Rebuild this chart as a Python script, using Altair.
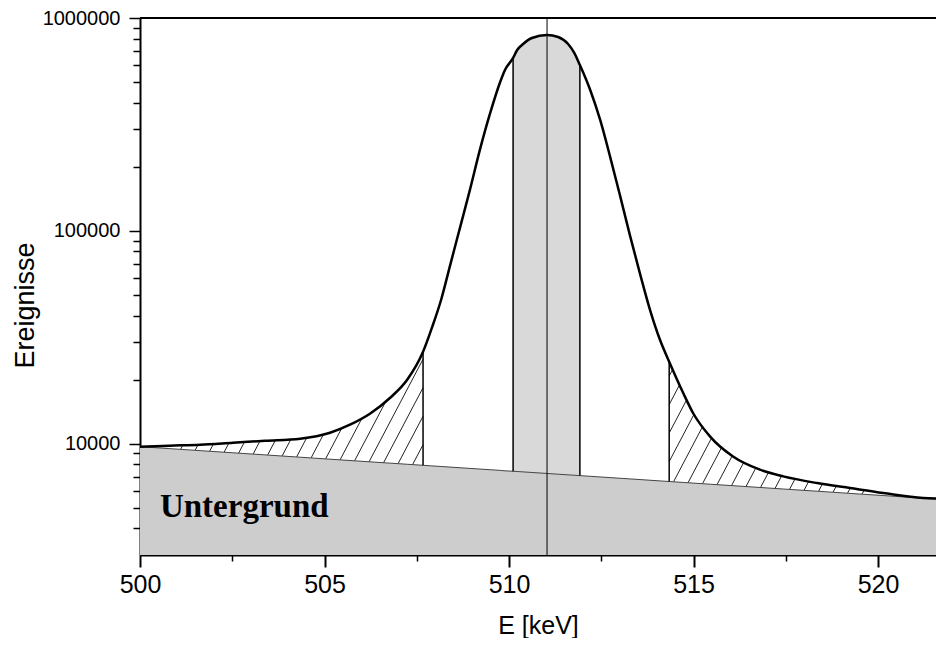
import altair as alt
import numpy as np
import pandas as pd

# ---- data ----
energie = [500.00, 500.81, 501.63, 502.52, 503.39, 504.34, 505.15, 505.69, 506.23, 506.78,
           507.24, 507.67, 507.91, 508.16, 508.40, 508.67, 508.94, 509.21, 509.49, 509.76,
           509.89, 510.11, 510.22, 510.35, 510.62, 511.03, 511.33, 511.60, 511.76, 511.92,
           512.20, 512.47, 512.74,
           513.01, 513.28, 513.55, 513.82, 514.09, 514.34, 514.72, 514.99, 515.45, 516.07,
           516.80, 517.43, 518.35, 519.24, 520.14, 521.22, 521.79]
ereignisse = [9680, 9790, 9890, 10110, 10330, 10560, 11260, 12280, 13830, 16440,
              19970, 27030, 35050, 47450, 68500, 103300, 155800, 240100, 358100, 500600,
              570000, 649000, 707600, 746900, 805700, 832200, 814400, 755000, 690000, 601600,
              459200, 331900, 222600,
              146000, 94750, 62830, 42580, 30780, 24270, 17300, 13900, 10800, 8710,
              7550, 7020, 6530, 6190, 5870, 5560, 5520]
untergrund = [9680, 9480, 9277, 9063, 8860, 8641, 8459, 8337, 8221, 8103,
              8006, 7916, 7865, 7815, 7765, 7710, 7656, 7602, 7546, 7492,
              7458, 7423, 7403, 7377, 7325, 7246, 7189, 7140, 7110, 7080,
              7028, 6978, 6930,
              6881, 6832, 6784, 6735, 6687, 6644, 6577, 6531, 6452, 6349,
              6228, 6126, 5981, 5842, 5706, 5546, 5464]
grenzen_schraffur = [507.67, 514.34]
grenzen_peak = [510.11, 511.92]
peak_e = 511.03
x_ticks = [500, 505, 510, 515, 520]
x_minor = [502.5, 507.5, 512.5, 517.5]
y_ticks = [10000, 100000, 1000000]
y_minor = [4000, 5000, 6000, 7000, 8000, 9000,
           20000, 30000, 40000, 50000, 60000, 70000, 80000, 90000,
           200000, 300000, 400000, 500000, 600000, 700000, 800000, 900000]
x_dom = [500, 521.57]
y_dom = [3000, 1000000]
label_text = ["Untergrund"]
label_e = [500.54]
label_n = [4540]

W, H = 796, 537
sans = "Liberation Sans"
serif = "Liberation Serif"

df = pd.DataFrame({"E": energie, "N": ereignisse, "U": untergrund})
y_low = y_dom[0]

xs = alt.Scale(domain=x_dom, nice=False, zero=False)
ys = alt.Scale(type="log", domain=y_dom, nice=False)

# ---- hatch lines (clipped to regions between background and curve) ----
sx = W / (x_dom[1] - x_dom[0])
ly0 = np.log10(y_dom[0])
sy = H / (np.log10(y_dom[1]) - ly0)
Xp = (np.array(energie) - x_dom[0]) * sx
Yc = (np.log10(ereignisse) - ly0) * sy
Yb = (np.log10(untergrund) - ly0) * sy
steig = 1.9
abstand = 15.0
step_c = steig * abstand
segs = []
for a_e, b_e in [(energie[0], grenzen_schraffur[0]), (grenzen_schraffur[1], energie[-1])]:
    a = (a_e - x_dom[0]) * sx
    b = (b_e - x_dom[0]) * sx
    X = np.linspace(a, b, int((b - a) * 4) + 2)
    yc = np.interp(X, Xp, Yc)
    yb = np.interp(X, Xp, Yb)
    cmin = np.min(yb - steig * X)
    cmax = np.max(yc - steig * X)
    k0 = int(np.floor(cmin / step_c))
    k1 = int(np.ceil(cmax / step_c))
    for k in range(k0, k1 + 1):
        c = k * step_c
        Yl = steig * X + c
        idx = np.nonzero((Yl >= yb - 0.01) & (Yl <= yc + 0.01))[0]
        if len(idx) < 2:
            continue
        i0, i1 = idx[0], idx[-1]
        if np.hypot(X[i1] - X[i0], Yl[i1] - Yl[i0]) < 3:
            continue
        segs.append({
            "E": x_dom[0] + X[i0] / sx, "E2": x_dom[0] + X[i1] / sx,
            "N": 10 ** (Yl[i0] / sy + ly0), "N2": 10 ** (Yl[i1] / sy + ly0),
        })
hatch_df = pd.DataFrame(segs)

band_df = df[(df.E >= grenzen_peak[0]) & (df.E <= grenzen_peak[1])]
grenz_df = df[df.E.isin(grenzen_schraffur + grenzen_peak)]

x_major = alt.Axis(orient="bottom", values=x_ticks, format="d", tickSize=12, tickWidth=2,
                   tickColor="black", domainColor="black", domainWidth=2,
                   labelFont=sans, labelFontSize=25, labelColor="black", labelPadding=5,
                   labelFlush=False, labelOverlap=False, grid=False,
                   titleFont=sans, titleFontSize=25, titleFontWeight="normal",
                   titleColor="black", titleBaseline="alphabetic", titleY=78)
y_major = alt.Axis(orient="left", values=y_ticks, format="d", tickSize=11, tickWidth=1.5,
                   tickColor="black", domainColor="black", domainWidth=2,
                   labelFont=sans, labelFontSize=20, labelColor="black", labelPadding=9,
                   labelOverlap=False, grid=False,
                   titleFont=sans, titleFontSize=27, titleFontWeight="normal",
                   titleColor="black", titleBaseline="alphabetic", titleX=-107, titleY=287,
                   titleAngle=270)
x_min_ax = alt.Axis(orient="bottom", values=x_minor, labels=False, domain=False, tickSize=6,
                    tickWidth=1.5, tickColor="black", grid=False)
y_min_ax = alt.Axis(orient="left", values=y_minor, labels=False, domain=False, tickSize=7,
                    tickWidth=1.5, tickColor="black", grid=False)

base = alt.Chart(df)

bg_area = base.mark_area(color="#cdcdcd").encode(
    x=alt.X("E:Q", scale=xs, axis=x_major, title="E [keV]"),
    y=alt.Y("U:Q", scale=ys, axis=y_major, title="Ereignisse"),
    y2=alt.Y2(datum=y_low),
)

band = alt.Chart(band_df).mark_area(color="#d9d9d9", interpolate="monotone").encode(
    x=alt.X("E:Q", scale=xs, axis=None),
    y=alt.Y("N:Q", scale=ys, axis=None),
    y2="U:Q",
)

hatch = alt.Chart(hatch_df).mark_rule(color="#222222", strokeWidth=1).encode(
    x=alt.X("E:Q", scale=xs, axis=None), x2="E2:Q",
    y=alt.Y("N:Q", scale=ys, axis=None), y2="N2:Q",
)

bg_line = base.mark_line(color="#444444", strokeWidth=1).encode(
    x=alt.X("E:Q", scale=xs, axis=None),
    y=alt.Y("U:Q", scale=ys, axis=None),
)

grenz = alt.Chart(grenz_df).mark_rule(color="black", strokeWidth=1.5).encode(
    x=alt.X("E:Q", scale=xs, axis=None),
    y=alt.Y("U:Q", scale=ys, axis=None), y2="N:Q",
)

peak_rule = alt.Chart(pd.DataFrame({"E": [peak_e], "N": [y_dom[0]], "N2": [y_dom[1]]})).mark_rule(
    color="black", strokeWidth=1).encode(
    x=alt.X("E:Q", scale=xs, axis=None),
    y=alt.Y("N:Q", scale=ys, axis=None), y2="N2:Q",
)

curve = base.mark_line(color="black", strokeWidth=2.5, interpolate="monotone").encode(
    x=alt.X("E:Q", scale=xs, axis=None),
    y=alt.Y("N:Q", scale=ys, axis=None),
)

text = alt.Chart(pd.DataFrame({"E": label_e, "N": label_n, "t": label_text})).mark_text(
    font=serif, fontSize=33, fontWeight="bold", align="left", baseline="alphabetic",
    color="black").encode(
    x=alt.X("E:Q", scale=xs, axis=None),
    y=alt.Y("N:Q", scale=ys, axis=None),
    text="t:N",
)

top = alt.Chart(pd.DataFrame({"E": [x_dom[0]], "E2": [x_dom[1]], "N": [y_dom[1]]})).mark_rule(
    color="black", strokeWidth=2).encode(
    x=alt.X("E:Q", scale=xs, axis=x_min_ax, title=None), x2="E2:Q",
    y=alt.Y("N:Q", scale=ys, axis=y_min_ax, title=None),
)

chart = alt.layer(bg_area, band, hatch, bg_line, grenz, peak_rule, curve, text, top).resolve_axis(
    x="independent", y="independent"
).properties(
    width=W, height=H,
    autosize=alt.AutoSizeParams(type="none"),
    padding={"left": 132, "top": 10, "right": 0, "bottom": 83},
).configure_view(stroke=None).configure(background="white")

chart.save("out.html", embed_options={"renderer": "svg", "actions": False})
